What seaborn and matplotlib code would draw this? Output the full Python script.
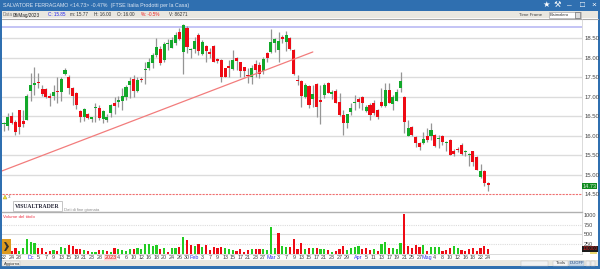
import numpy as np
import pandas as pd
import matplotlib
matplotlib.use('Agg')
import matplotlib.pyplot as plt
from matplotlib.patches import Rectangle, Polygon
import seaborn as sns

# candle data
opens = [16.29,16.25,16.51,16.35,16.67,16.38,16.41,17.16,17.31,17.37,17.19,17.19,17.01,17.02,17.15,17.12,17.59,17.51,17.22,17.11,
         16.63,16.49,16.55,16.43,16.70,16.70,16.42,16.41,16.59,16.83,16.87,16.90,16.99,17.29,17.45,17.16,17.45,17.69,17.75,17.87,
         18.06,18.22,17.94,18.35,18.26,18.37,18.65,18.16,18.76,18.20,18.23,18.59,18.09,18.30,18.12,18.30,17.96,17.94,17.73,17.77,
         17.72,18.00,17.88,17.76,17.56,17.52,17.84,17.82,17.67,18.12,18.16,18.37,18.20,18.54,18.41,18.51,18.21,17.43,17.41,17.00,
         17.28,16.95,17.32,16.93,17.04,17.35,17.08,17.16,16.86,16.53,16.34,16.62,16.83,16.94,16.99,16.64,16.78,16.85,16.66,16.87,
         16.77,17.17,16.81,16.90,17.22,17.00,16.00,16.23,15.96,15.82,15.81,15.99,15.99,16.01,15.91,15.99,15.81,15.89,15.62,15.66,
         15.77,15.59,15.50,15.60,15.45,14.95,15.11,14.79]
closes = [16.30,16.49,16.32,16.10,16.23,16.30,17.01,17.31,17.36,17.35,17.06,16.99,16.98,17.12,17.12,17.45,17.70,17.23,17.03,16.80,
          16.48,16.68,16.45,16.48,16.70,16.45,16.63,16.49,16.78,16.76,16.93,17.02,17.26,17.41,17.16,17.43,17.43,17.69,17.88,18.07,
          18.27,17.86,18.35,18.35,18.46,18.59,18.48,18.84,18.27,18.20,18.44,18.17,18.40,18.18,18.11,17.90,17.91,17.52,17.52,17.75,
          17.94,17.91,17.67,17.65,17.54,17.75,17.70,17.59,17.96,18.00,18.41,18.47,18.43,18.47,18.59,18.22,17.58,17.40,17.01,17.29,
          16.80,17.07,16.75,16.87,17.31,17.11,17.12,16.84,16.53,16.34,16.55,16.70,16.87,16.87,16.83,16.73,16.54,16.59,16.49,16.77,
          17.17,16.85,16.99,17.13,17.40,16.35,16.21,16.01,15.82,15.70,15.93,15.89,16.15,15.73,15.93,15.85,15.82,15.52,15.53,15.64,
          15.54,15.61,15.53,15.33,15.13,15.09,14.79,14.73]
highs = [16.36,16.59,16.61,16.41,16.67,16.66,17.07,17.60,17.77,17.60,17.30,17.22,17.09,17.30,17.52,17.52,17.75,17.56,17.24,17.13,
         16.66,16.70,16.59,16.49,16.83,16.79,16.66,16.55,16.81,17.00,17.02,17.22,17.30,17.52,17.56,17.52,17.50,17.90,17.99,18.13,
         18.50,18.29,18.41,18.47,18.54,18.65,18.76,18.86,18.82,18.24,18.54,18.63,18.46,18.33,18.24,18.33,17.99,17.96,17.75,17.94,
         18.20,18.03,17.90,17.77,17.73,17.82,17.94,17.90,18.01,18.14,18.73,18.50,18.67,18.59,18.69,18.54,18.22,17.56,17.43,17.35,
         17.30,17.30,17.35,17.30,17.35,17.37,17.18,17.19,17.09,16.66,16.56,16.83,17.05,17.00,17.02,16.79,16.83,16.92,16.68,17.22,
         17.36,17.35,17.05,17.19,17.64,17.02,16.40,16.25,15.99,15.85,16.11,16.19,16.32,16.05,16.02,16.02,15.87,15.91,15.65,15.70,
         15.81,15.64,15.55,15.62,15.47,15.28,15.12,14.82]
lows = [16.13,16.15,16.30,16.02,16.05,16.23,16.41,16.90,17.05,17.22,17.02,16.96,16.77,16.92,16.83,16.88,17.56,17.07,16.79,16.68,
        16.36,16.38,16.42,16.36,16.36,16.41,16.32,16.36,16.47,16.55,16.73,16.66,16.92,16.96,16.99,17.13,17.39,17.33,17.69,17.73,
        18.03,17.82,17.90,18.20,18.24,18.33,18.46,17.59,18.12,18.00,18.12,18.07,18.07,17.88,17.99,17.88,17.86,17.39,17.50,17.52,
        17.69,17.69,17.52,17.52,17.35,17.32,17.52,17.49,17.59,17.90,18.12,18.16,17.90,18.37,18.18,18.20,17.56,17.30,16.73,16.96,
        16.70,16.73,16.49,16.29,16.96,17.09,16.94,16.83,16.52,16.02,16.19,16.53,16.66,16.70,16.66,16.62,16.41,16.53,16.42,16.75,
        16.75,16.83,16.66,16.88,17.13,16.07,15.99,15.99,15.70,15.64,15.79,15.85,15.89,15.70,15.68,15.76,15.62,15.51,15.48,15.59,
        15.51,15.47,15.23,15.23,15.12,14.93,14.71,14.59]
volumes = [100,100,86,145,86,145,376,316,274,145,145,60,77,111,77,188,145,239,214,120,
           137,103,86,60,60,94,111,86,60,162,120,111,68,128,137,154,137,257,248,205,
           231,137,162,60,162,162,188,428,351,231,214,257,188,239,111,171,145,188,162,120,
           103,86,137,43,111,128,120,120,128,111,684,145,530,197,188,180,376,128,291,137,
           162,145,145,137,137,94,60,86,137,197,111,162,180,197,120,145,103,128,86,248,
           299,145,145,137,274,1017,197,145,222,180,222,86,171,171,171,86,111,145,197,145,
           103,77,128,145,86,145,197,137]
volume_sides = list("GGRRGGGGGR" "RRRGRGGRRR" "RGRGGRGRGR" "GGGGRGGGGG" "GRGRGGRGRR"
                    "GRGRRRRRGG" "GRRRRGRRGG" "GGRGGRRRRG" "RGRGGRGRRR" "GGGGRRRGRG"
                    "GRGGGRRRRR" "GRGGGRRRGG" "RRRRRRRR")

tick_pos = [0,2,4,7,9,11,13,15,17,19,21,23,25,28,30,32,34,36,38,40,42,44,46,48,50,52,54,56,58,60,62,64,
            66,68,70,72,74,76,78,80,82,84,86,88,90,93,95,97,99,101,103,105,107,109,111,113,115,117,119,121,123,125,127]
tick_text = ['22','24','28','Dc','5','7','9','13','15','19','21','23','28','2023','4','6','10','12','16','18','20','24','26','30','Feb','3','7','9','13','15','17','21',
             '23','27','Mar','3','7','9','13','15','17','21','23','27','29','Apr','5','11','13','17','19','21','25','27','Mag','4','8','10','12','16','18','22','24']
price_ticks = [18.5, 18.0, 17.5, 17.0, 16.5, 16.0, 15.5, 15.0, 14.5]
volume_ticks = [1000, 750, 500, 250]
trend_x = [-0.5, 81.0]
trend_y = [15.10, 18.15]

RED = '#ee0a14'
GREEN = '#12a82a'
GREEN_VOL = '#22cc22'

sns.set_theme(style='white')
plt.rcParams['font.family'] = ['Liberation Sans', 'DejaVu Sans']

df = pd.DataFrame({'open': opens, 'close': closes, 'high': highs, 'low': lows,
                   'volume': volumes, 'side': volume_sides})
df['i'] = np.arange(len(df))

fig = plt.figure(figsize=(6, 2.69), dpi=100, facecolor='white')
W, H = 600, 269

def box(l, t, r, b):
    return [l / W, 1 - b / H, (r - l) / W, (b - t) / H]

# window frame, in pixels
chrome = fig.add_axes([0, 0, 1, 1], zorder=0)
chrome.set_xlim(0, W)
chrome.set_ylim(H, 0)
chrome.axis('off')
chrome.add_patch(Rectangle((0, 0), W, H, fc='#2f6fb0', ec='none'))
chrome.add_patch(Rectangle((2, 11), 596, 255, fc='white', ec='none'))
chrome.add_patch(Rectangle((2, 11), 596, 7, fc='#e9e7e0', ec='none'))
chrome.plot([2, 598], [18.5, 18.5], color='#a8a8a8', lw=0.8)
chrome.add_patch(Rectangle((2, 260), 596, 6, fc='#e9e7e0', ec='none'))

chrome.text(3, 6, 'SALVATORE FERRAGAMO <14.73> -0.47%  (FTSE Italia Prodotti per la Casa)',
            color='#dfe8f4', fontsize=3.75, va='center')
toolbar = [(3, 'Data', '#777777'), (13, '08/Mag/2023', '#222222'), (48, 'C: 15.85', '#2222ee'),
           (70, 'm: 15.77', '#333333'), (94, 'H: 16.00', '#333333'), (117, 'O: 16.00', '#333333'),
           (141, '%: -0.5%', '#ee2222'), (169, 'V: 86271', '#333333')]
for tx, label, c in toolbar:
    chrome.text(tx, 15, label, color=c, fontsize=3.3, va='center')
chrome.text(519, 15, 'Time Frame', color='#444444', fontsize=3.2, va='center')
chrome.add_patch(Rectangle((549, 12), 32, 5.5, fc='white', ec='#999999', lw=0.4))
chrome.text(550, 14.8, 'Bisimalero', color='#333333', fontsize=3.0, va='center')
chrome.add_patch(Rectangle((575, 12), 5, 5.5, fc='#dddddd', ec='#555555', lw=0.4))
for sx, sym in [(546, '★'), (557, '⚒'), (569, '–'), (582, '□'), (594, '×')]:
    chrome.text(sx, 5.5, sym, color='white', fontsize=6, ha='center', va='center')

# price panel
ax = fig.add_axes(box(2, 19, 582, 212), zorder=1, facecolor='none')
ax.set_xlim(-0.52, 151.6)
ax.set_ylim(14.046, 18.995)
ax.axhline(18.8, color='#b4b4f2', lw=1.1, zorder=1)
for p in price_ticks[:-1]:
    ax.axhline(p, color='#dcdcdc', lw=1.0, zorder=1)
ax.axhline(14.5, color='#f07070', lw=0.8, ls=(0, (2, 1)), zorder=1)
ax.vlines(df['i'], df['low'], df['high'], color='#959595', lw=0.9, zorder=2)
up = df['close'] >= df['open']
body_low = df[['open', 'close']].min(axis=1)
body_h = (df['close'] - df['open']).abs().clip(lower=0.03)
ax.bar(df['i'], body_h, bottom=body_low, width=0.8,
       color=np.where(up, GREEN, RED), edgecolor='none', linewidth=0, zorder=3)
ax.plot(trend_x, trend_y, color='#f27c7c', lw=0.9, zorder=4)
ax.set_xticks([])
ax.yaxis.tick_right()
ax.set_yticks(price_ticks)
ax.set_yticklabels([f'{p:.2f}' for p in price_ticks], fontsize=4.3, color='#444444')
ax.tick_params(axis='y', length=1.2, width=0.5, color='#666666', pad=0.3)
sns.despine(ax=ax, left=True, top=True, right=False, bottom=False)
ax.spines['right'].set_color('#cccccc')
ax.spines['right'].set_linewidth(0.5)
ax.spines['bottom'].set_color('#b0b0b0')
ax.spines['bottom'].set_linewidth(1.0)

# volume panel
vax = fig.add_axes(box(2, 213, 582, 254), zorder=1, facecolor='none')
for v, st in zip(volume_ticks[1:], [(0, (1, 1)), '-', (0, (1, 1))]):
    vax.axhline(v, color='#dcdcdc', lw=0.8, ls=st, zorder=0)
sns.barplot(data=df, x='i', y='volume', hue='side', palette={'G': GREEN_VOL, 'R': RED},
            native_scale=True, dodge=False, width=0.58, legend=False, ax=vax, zorder=2,
            saturation=1, edgecolor='none', linewidth=0)
vax.set_xlim(-0.52, 151.6)
vax.set_ylim(0, 1043)
vax.set_xlabel('')
vax.set_ylabel('')
vax.yaxis.tick_right()
vax.set_yticks(volume_ticks)
vax.set_yticklabels([str(v) for v in volume_ticks], fontsize=4.0, color='#444444')
vax.tick_params(axis='y', length=1.2, width=0.5, color='#666666', pad=0.3)
vax.set_xticks(tick_pos)
vax.set_xticklabels(tick_text, fontsize=3.9, color='#444444')
vax.tick_params(axis='x', length=0, pad=1)
for lbl in vax.get_xticklabels():
    if lbl.get_text() in ('Dc', 'Feb', 'Mar', 'Apr', 'Mag'):
        lbl.set_color('#3333ee')
    elif lbl.get_text() == '2023':
        lbl.set_color('#dd1111')
        lbl.set_bbox(dict(fc='#ffd8d8', ec='none', pad=0.4))
sns.despine(ax=vax, left=True, top=True, right=False)
vax.spines['right'].set_color('#cccccc')
vax.spines['right'].set_linewidth(0.5)
vax.spines['bottom'].set_color('#cccccc')
vax.spines['bottom'].set_linewidth(0.5)

# overlays on top of the panels
top = fig.add_axes([0, 0, 1, 1], zorder=5, facecolor='none')
top.set_xlim(0, W)
top.set_ylim(H, 0)
top.axis('off')
top.add_patch(Rectangle((13, 201), 49, 10, fc='white', ec='#c4c4c4', lw=0.7))
top.text(37.5, 206, 'VISUALTRADER', family='Liberation Serif', fontweight='bold', fontsize=4.1,
         color='#222233', ha='center', va='center')
top.text(64, 209.5, 'Dati di fine giornata', color='#8a8a8a', fontsize=3.0, va='center')
top.text(3, 217, 'Volume del titolo', color='#ee3344', fontsize=3.2, va='center')
top.add_patch(Polygon([[3, 199], [7, 199], [5, 195]], fc='#f4e030', ec='#999933', lw=0.3))
top.text(8, 197, '3', color='#666666', fontsize=3.2, va='center')
top.add_patch(Rectangle((2, 239), 9, 15, fc='#dd9a1e', ec='none'))
top.add_patch(Polygon([[4, 242], [6, 242], [9, 246.5], [6, 251], [4, 251], [6.5, 246.5]], fc='#333333', ec='none'))
top.add_patch(Rectangle((582, 183), 15, 6, fc='#0f8a1e', ec='none'))
top.text(589.5, 186, '14.73', color='#d8f0d8', fontsize=4, ha='center', va='center')
top.add_patch(Rectangle((582, 246), 16, 5.5, fc='#1c1c1c', ec='none'))
top.text(590, 248.9, '100000', color='#dd2222', fontsize=3.3, ha='center', va='center')
top.add_patch(Rectangle((590, 251.5), 7, 2.5, fc='#e8d870', ec='none'))
top.add_patch(Rectangle((2, 261), 18, 5, fc='#f2f0ea', ec='#bbbbbb', lw=0.3))
top.text(3.5, 263.5, 'Aggiorna', color='#333333', fontsize=3.0, va='center')
top.add_patch(Rectangle((521, 261), 27, 4.5, fc='#f2f2f2', ec='#bbbbbb', lw=0.3))
top.add_patch(Rectangle((553, 261), 15, 5, fc='#f4f4f4', ec='#bbbbbb', lw=0.3))
top.text(560.5, 263.5, 'Tools', color='#333333', fontsize=3.2, ha='center', va='center')
top.add_patch(Rectangle((569, 261), 15, 5, fc='#c6d8ea', ec='#99aabb', lw=0.3))
top.text(576.5, 263.5, 'DUOFF', color='#224477', fontsize=3.0, ha='center', va='center')
top.add_patch(Rectangle((586, 261), 4, 5, fc='#eeeeee', ec='#bbbbbb', lw=0.3))
top.add_patch(Rectangle((591, 261), 4, 5, fc='#eeeeee', ec='#bbbbbb', lw=0.3))

fig.savefig('out.png', dpi=100)
